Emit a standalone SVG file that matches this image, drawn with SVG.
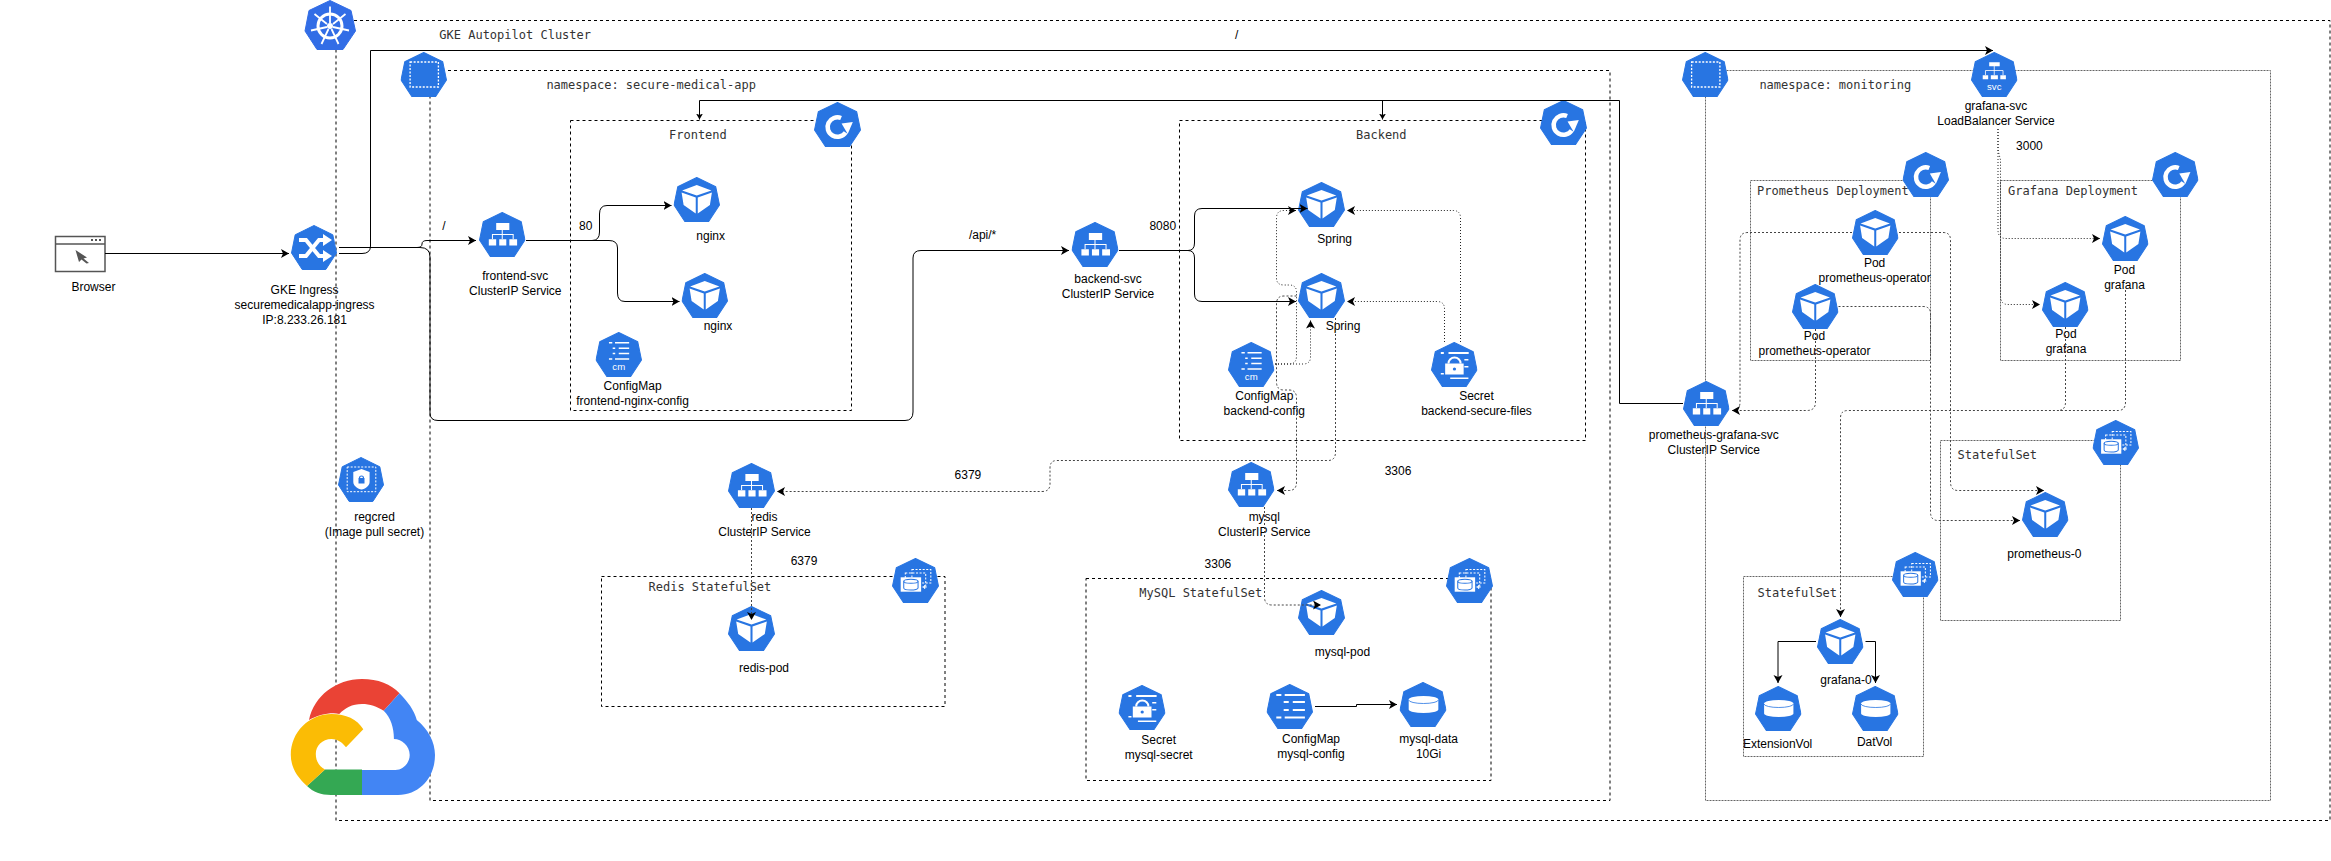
<svg xmlns="http://www.w3.org/2000/svg" width="2331" height="861" viewBox="0 0 2331 861">
<style>
text{font-family:"Liberation Sans",Arial,sans-serif;font-size:12px;fill:#000;text-anchor:middle}
text.m{font-family:"DejaVu Sans Mono","Liberation Mono",monospace;fill:#333;text-anchor:start}
text.i{fill:#fff;font-size:9.5px}
.box{fill:none;stroke:#000;stroke-dasharray:3 3}
.gbox{fill:none;stroke:#666;stroke-dasharray:2 1}
.c{fill:none;stroke:#000}
.big{marker-end:url(#a)}
.small{marker-end:url(#b)}
.dot{fill:none;stroke:#222;stroke-dasharray:1 2;marker-end:url(#a)}
.gd{fill:none;stroke:#444;stroke-dasharray:2 2;marker-end:url(#a)}
.gn{fill:none;stroke:#444;stroke-dasharray:2 2}
.hex{fill:#2875e2;stroke:#2875e2;stroke-linejoin:round}
.w{fill:#fff}
.wl{fill:none;stroke:#fff}
.wd{fill:none;stroke:#fff;stroke-dasharray:2 1.5}
.bl{fill:none;stroke:#2875e2}
</style>
<defs>
<marker id="a" markerUnits="userSpaceOnUse" markerWidth="10" markerHeight="10" refX="8" refY="4.5" orient="auto"><path d="M0 0L8 4.5L0 9L2 4.5Z" fill="#000"/></marker>
<marker id="b" markerUnits="userSpaceOnUse" markerWidth="8" markerHeight="8" refX="6" refY="3.5" orient="auto"><path d="M0 0L6 3.5L0 7L1.5 3.5Z" fill="#000"/></marker>
<polygon id="h" class="hex" points="23,.5 41.8,9.8 45.5,28 34.8,44.5 11.2,44.5 .5,28 4.2,9.8"/>
<symbol id="pod" viewBox="0 0 46 45" preserveAspectRatio="none"><use href="#h"/><path class="w" d="M23 8L37.5 13.5L23 18.5L8.5 13.5ZM8 15.5L22 20.5V36.5L10 28ZM38 15.5L24 20.5V36.5L36 28Z"/></symbol>
<symbol id="svc" viewBox="0 0 46 45" preserveAspectRatio="none"><use href="#h"/><path class="w" d="M17 11h13v7h-13zM9.7 27.3h7.3v6.2h-7.3zM20 27.3h7v6.2h-7zM30 27.3h7.7v6.2h-7.7z"/><path class="wl" d="M23 18V27M13.3 27V22.5H33.8V27"/></symbol>
<symbol id="lb" viewBox="0 0 46 45" preserveAspectRatio="none"><use href="#h"/><path class="w" d="M18 10.3h10.4v4h-10.4zM11.6 23.3h5.4v4h-5.4zM19.6 23.3h7v4h-7zM29 23.3h5.5v4h-5.5z"/><path class="wl" d="M23 14V23M14.3 23V18.5H31.7V23" stroke-width=".8"/><text class="i" x="23" y="38.5">svc</text></symbol>
<symbol id="cm" viewBox="0 0 46 45" preserveAspectRatio="none"><use href="#h"/><path class="w" d="M13.3 10h3.3v1.6h-3.3zM19.3 10h14v1.6h-14zM17 15.5h2.5v1.6h-2.5zM23 15.5h10.3v1.6h-10.3zM17 20.7h2.5v1.6h-2.5zM23 20.7h10.3v1.6h-10.3zM13.3 26.2h3.3v1.6h-3.3zM19.3 26.2h14v1.6h-14z"/><text class="i" x="23" y="38.5">cm</text></symbol>
<symbol id="cm2" viewBox="0 0 46 45" preserveAspectRatio="none"><use href="#h"/><path class="w" d="M9.7 10h5v2h-5zM18 10h20v2h-20zM17 17h5v2h-5zM26 17h12v2h-12zM17 25h5v2h-5zM26 25h12v2h-12zM9.7 32.5h5v2h-5zM18 32.5h20v2h-20z"/></symbol>
<symbol id="sec" viewBox="0 0 46 45" preserveAspectRatio="none"><use href="#h"/><path class="w" d="M9.7 10h3v2h-3zM17.3 10h20v2h-20zM33 17h4v1.6h-4zM33 24h4v1.6h-4zM9.7 31h3v1.6h-3zM19 35.5h18v1.6h-18zM14 21.5h18.3v11h-18.3z"/><path class="wl" d="M17.3 21.5a6 6 0 0 1 12 0" stroke-width="2"/><circle cx="23.2" cy="27" r="1.6" fill="#2875e2"/></symbol>
<symbol id="dep" viewBox="0 0 46 45" preserveAspectRatio="none"><use href="#h"/><path class="wl" stroke-width="4.5" d="M26.5 16A9.7 9.7 0 1 0 31 30.5"/><path class="w" d="M27 21.5L38 20L33 32Z"/></symbol>
<symbol id="ns" viewBox="0 0 46 45" preserveAspectRatio="none"><use href="#h"/><rect class="wd" x="9.5" y="10" width="28" height="25" stroke-width="1.3"/></symbol>
<symbol id="sts" viewBox="0 0 46 45" preserveAspectRatio="none"><use href="#h"/><rect class="wd" x="19.5" y="11.5" width="18.5" height="13.5"/><rect class="wd" x="13" y="15" width="20" height="14"/><rect class="w" x="8.5" y="19.3" width="20" height="14.4"/><path class="bl" d="M11.5 23.3V30a7 2 0 0 0 14 0V23.3"/><ellipse class="bl" cx="18.5" cy="23.3" rx="7" ry="2"/><path class="wl" d="M32 27v4M30 29h4"/></symbol>
<symbol id="vol" viewBox="0 0 46 45" preserveAspectRatio="none"><use href="#h"/><path class="w" d="M9 17.5a14.5 3.5 0 0 1 29 0V27.5a14.5 3.5 0 0 1 -29 0Z"/><path class="bl" d="M9 18a14.5 3.5 0 0 0 29 0" stroke-width=".8"/></symbol>
<symbol id="ing" viewBox="0 0 46 45" preserveAspectRatio="none"><use href="#h"/><path class="wl" stroke-width="4" d="M8 15H15L28 31H33M8 31H15L28 15H33"/><path class="w" d="M32 9L41 15L32 21ZM32 25L41 31L32 37Z"/></symbol>
<symbol id="reg" viewBox="0 0 46 45" preserveAspectRatio="none"><use href="#h"/><rect class="wd" x="9.2" y="10" width="28.6" height="24.7"/><path class="w" d="M23.5 12L31.6 15V25C31.6 29 27 32 23.5 32.5C20 32 15.3 29 15.3 25V15Z"/><rect x="20.5" y="21" width="6" height="5.5" fill="#2875e2"/><path class="bl" d="M21.5 21a2 2 0 0 1 4 0" stroke-width="1.2"/></symbol>
</defs>

<g id="containers">
<rect id="cluster-box" class="box" x="336" y="20.5" width="1994" height="800"/>
<rect id="ns-app-box" class="box" x="430" y="70.5" width="1180" height="730"/>
<rect id="frontend-box" class="box" x="570.5" y="120.5" width="281" height="290"/>
<rect id="backend-box" class="box" x="1179.5" y="120.5" width="406" height="320"/>
<rect id="redis-box" class="box" x="601.5" y="576.5" width="343.5" height="130"/>
<rect id="mysql-box" class="box" x="1086" y="578.5" width="405" height="202"/>
<rect id="ns-mon-box" class="gbox" x="1705.5" y="70.5" width="565" height="730"/>
<rect id="prom-box" class="gbox" x="1750.5" y="180.5" width="180" height="180"/>
<rect id="graf-box" class="gbox" x="2000.5" y="180.5" width="180" height="180"/>
<rect id="sts-prom-box" class="gbox" x="1940.5" y="440.5" width="180" height="180"/>
<rect id="sts-graf-box" class="gbox" x="1743.5" y="576.5" width="180" height="180"/>
<text class="m" x="439.3" y="39">GKE Autopilot Cluster</text>
<text class="m" x="546.4" y="89">namespace: secure-medical-app</text>
<text class="m" x="669" y="139">Frontend</text>
<text class="m" x="1356" y="139">Backend</text>
<text class="m" x="648.5" y="591">Redis StatefulSet</text>
<text class="m" x="1139.3" y="597">MySQL StatefulSet</text>
<text class="m" x="1759.4" y="89">namespace: monitoring</text>
<text class="m" x="1757" y="195">Prometheus Deployment</text>
<text class="m" x="2008" y="195">Grafana Deployment</text>
<text class="m" x="1957.6" y="459">StatefulSet</text>
<text class="m" x="1757.6" y="597">StatefulSet</text>
</g>

<g id="n-k8s"><polygon fill="#326de6" stroke="#326de6" stroke-linejoin="round" points="330,.5 351,10.5 355.5,31 343,49.5 317,49.5 305,31 309,10.5"/><circle cx="330" cy="26" r="12" fill="none" stroke="#fff" stroke-width="3"/><circle cx="330" cy="26" r="3" fill="#fff"/><path class="wl" stroke-width="1.8" d="M330 6.5V23M345.5 14L333 24M349 30.5L333 27M338.5 44L331.5 29M321.5 44L328.5 29M311 30.5L327 27M314.5 14L327 24"/></g>
<g id="n-browser"><rect x="55.5" y="236.5" width="49.5" height="35" fill="#fff" stroke="#555" stroke-width="1.5"/><path d="M55.5 244H105" stroke="#555" stroke-width="1.5"/><path d="M91 239h2v2h-2zM95 239h2v2h-2zM99 239h2v2h-2z" fill="#555"/><path d="M75.5 250L87 257.5L83.5 258.5L89 263L86.5 263.5L81.5 259.5L79 262Z" fill="#555"/><text x="93.4" y="291">Browser</text></g>
<g id="n-ingress"><use href="#ing" x="291" y="225" width="46" height="45"/><text x="304.6" y="294">GKE Ingress</text><text x="304.6" y="309">securemedicalapp-ingress</text><text x="304.6" y="323.5">IP:8.233.26.181</text></g>
<g id="n-regcred"><use href="#reg" x="338" y="457" width="46" height="45"/><text x="374.5" y="521">regcred</text><text x="374.5" y="536">(Image pull secret)</text></g>
<g id="n-ns-app"><use href="#ns" x="400.5" y="52" width="46.5" height="45"/></g>
<g id="n-dep-frontend"><use href="#dep" x="814" y="102" width="47" height="45"/></g>
<g id="n-dep-backend"><use href="#dep" x="1540" y="100" width="47" height="45"/></g>
<g id="n-frontend-svc"><use href="#svc" x="479" y="212" width="46.5" height="45"/><text x="515.3" y="280">frontend-svc</text><text x="515.3" y="295">ClusterIP Service</text></g>
<g id="n-nginx1"><use href="#pod" x="673.5" y="177" width="46.5" height="45"/><text x="710.7" y="240">nginx</text></g>
<g id="n-nginx2"><use href="#pod" x="681.5" y="273" width="46.5" height="45"/><text x="718" y="330">nginx</text></g>
<g id="n-cm-frontend"><use href="#cm" x="595.5" y="332" width="46.5" height="45"/><text x="632.6" y="390">ConfigMap</text><text x="632.6" y="405">frontend-nginx-config</text></g>
<g id="n-backend-svc"><use href="#svc" x="1071.5" y="222" width="47" height="45"/><text x="1108" y="283">backend-svc</text><text x="1108" y="298">ClusterIP Service</text></g>
<g id="n-spring1"><use href="#pod" x="1298" y="182" width="47" height="45"/><text x="1334.7" y="243">Spring</text></g>
<g id="n-spring2"><use href="#pod" x="1298" y="273" width="47" height="45"/><text x="1343" y="330">Spring</text></g>
<g id="n-cm-backend"><use href="#cm" x="1228" y="342" width="46.5" height="45"/><text x="1264.3" y="400">ConfigMap</text><text x="1264.3" y="415">backend-config</text></g>
<g id="n-secret-backend"><use href="#sec" x="1431" y="342" width="46.5" height="45"/><text x="1476.5" y="400">Secret</text><text x="1476.5" y="415">backend-secure-files</text></g>
<g id="n-redis-svc"><use href="#svc" x="728" y="463" width="47" height="45"/><text x="764.5" y="521">redis</text><text x="764.5" y="536">ClusterIP Service</text></g>
<g id="n-redis-sts"><use href="#sts" x="892" y="558" width="47" height="45"/></g>
<g id="n-redis-pod"><use href="#pod" x="728" y="606" width="47" height="45"/><text x="764" y="672">redis-pod</text></g>
<g id="n-mysql-svc"><use href="#svc" x="1228" y="462" width="46.5" height="45"/><text x="1264.3" y="521">mysql</text><text x="1264.3" y="536">ClusterIP Service</text></g>
<g id="n-mysql-sts"><use href="#sts" x="1446" y="558" width="47" height="45"/></g>
<g id="n-mysql-pod"><use href="#pod" x="1298" y="590" width="47" height="45"/><text x="1342.4" y="656">mysql-pod</text></g>
<g id="n-mysql-secret"><use href="#sec" x="1118.5" y="685" width="47" height="45"/><text x="1158.7" y="744">Secret</text><text x="1158.7" y="759">mysql-secret</text></g>
<g id="n-mysql-config"><use href="#cm2" x="1266.5" y="684" width="46.5" height="45"/><text x="1311" y="743">ConfigMap</text><text x="1311" y="758">mysql-config</text></g>
<g id="n-mysql-data"><use href="#vol" x="1399.5" y="682" width="47" height="45"/><text x="1428.6" y="743">mysql-data</text><text x="1428.6" y="758">10Gi</text></g>
<g id="n-ns-mon"><use href="#ns" x="1682" y="52" width="46.5" height="45"/></g>
<g id="n-grafana-svc"><use href="#lb" x="1971" y="52" width="46.5" height="45"/><text x="1996" y="110">grafana-svc</text><text x="1996" y="125">LoadBalancer Service</text></g>
<g id="n-dep-prom"><use href="#dep" x="1902.5" y="152" width="46.5" height="45"/></g>
<g id="n-dep-graf"><use href="#dep" x="2152" y="152" width="46.5" height="45"/></g>
<g id="n-prom-op1"><use href="#pod" x="1852" y="210" width="46.5" height="45"/><text x="1874.6" y="267">Pod</text><text x="1874.6" y="282">prometheus-operator</text></g>
<g id="n-prom-op2"><use href="#pod" x="1792" y="284" width="46.5" height="45"/><text x="1814.5" y="340">Pod</text><text x="1814.5" y="355">prometheus-operator</text></g>
<g id="n-graf1"><use href="#pod" x="2102" y="216" width="46.5" height="45"/><text x="2124.5" y="274">Pod</text><text x="2124.5" y="289">grafana</text></g>
<g id="n-graf2"><use href="#pod" x="2042" y="282" width="46.5" height="45"/><text x="2066" y="338">Pod</text><text x="2066" y="353">grafana</text></g>
<g id="n-pg-svc"><use href="#svc" x="1683" y="381" width="46.5" height="45"/><text x="1713.8" y="439">prometheus-grafana-svc</text><text x="1713.8" y="454">ClusterIP Service</text></g>
<g id="n-sts-prom"><use href="#sts" x="2092.5" y="420" width="46.5" height="45"/></g>
<g id="n-prom0"><use href="#pod" x="2022" y="492" width="46.5" height="45"/><text x="2044.3" y="558">prometheus-0</text></g>
<g id="n-sts-graf"><use href="#sts" x="1892" y="552" width="46.5" height="45"/></g>
<g id="n-graf0"><use href="#pod" x="1817" y="619" width="46.5" height="45"/><text x="1846" y="684">grafana-0</text></g>
<g id="n-extvol"><use href="#vol" x="1755" y="686" width="46.5" height="45"/><text x="1777.6" y="748">ExtensionVol</text></g>
<g id="n-datvol"><use href="#vol" x="1852" y="686" width="46.5" height="45"/><text x="1874.6" y="746">DatVol</text></g>

<g id="n-gcp">
<path fill="#ea4335" d="M309 720C314 696 336 679 362 679C378 679 391 684 399.5 693.3L383.7 710.7C377 706.5 370 704 362 704C352 704 345 708 339.3 714C331 712 318 715 309 720Z"/>
<path fill="#4285f4" d="M399.5 693.3C408 702 414 710 416.8 720C428 729 435 742 435 755C435 777 420 795 398 795H362V770H395.4C403 770 409.7 763 409.7 755C409.7 746 402 739 393.9 739C394 728 391 718 383.7 710.7Z"/>
<path fill="#34a853" d="M325 769.5H362V795H331C321 795 313 792 307 786Z"/>
<path fill="#fbbc05" d="M331.6 714C346 714 357 719 363.3 729.3L346 747.3C342 742 337 739 331.6 739C322 739 315.8 746 315.8 754C315.8 761 319 766 325 769.5L307 786C297 777 290.8 767 290.8 755C290.8 732 309 714 331.6 714Z"/>
</g>

<g id="connectors">
<path class="c big" d="M105 253.5H289"/>
<path class="c big" d="M339 247.5H417Q422 247.5 422 244Q422 240.5 427 240.5H476"/>
<path class="c big" d="M339 247.5H420Q430 247.5 430 257V413Q430 420.5 438 420.5H905Q913 420.5 913 412V258Q913 250.5 921 250.5H1069"/>
<path class="c big" d="M339 253.5H362Q370.5 253.5 370.5 246V50.5H1993"/>
<path class="c small" d="M1683 403.5H1619.5V100.5H699.5V119.5"/>
<path class="c small" d="M1382.5 100.5V119.5"/>
<path class="c big" d="M526 240.5H592Q599.5 240.5 599.5 232V214Q599.5 205.5 607 205.5H671.5"/>
<path class="c big" d="M526 240.5H609Q617.5 240.5 617.5 248V293Q617.5 301.5 625 301.5H679.5"/>
<path class="c big" d="M1119 250.5H1188Q1194.5 250.5 1194.5 243V216Q1194.5 208.5 1202 208.5H1307.5"/>
<path class="c big" d="M1119 250.5H1188Q1194.5 250.5 1194.5 258V294Q1194.5 301.5 1202 301.5H1296"/>
<path class="dot" d="M1460.5 342V218Q1460.5 210.5 1453 210.5H1347"/>
<path class="dot" d="M1444.5 342V309Q1444.5 301.5 1437 301.5H1347"/>
<path class="dot" d="M1275 364H1303Q1310.5 364 1310.5 357V320.5"/>
<path class="dot" d="M1275 364H1289Q1296.5 364 1296.5 356V292Q1296.5 285 1289 285H1284Q1276.5 285 1276.5 278V218Q1276.5 210.5 1284 210.5H1296"/>
<path class="gd" d="M1296.5 296H1284Q1276.5 296 1276.5 304V382Q1276.5 390 1284 390H1289Q1296.5 390 1296.5 398V482Q1296.5 490.5 1289 490.5H1277"/>
<path class="gd" d="M1335.5 318V452Q1335.5 460.5 1328 460.5H1057Q1050 460.5 1050 468V484Q1050 491.5 1042 491.5H777"/>
<path class="gd" d="M751.5 508V620"/>
<path class="gd" d="M1264.5 507V597Q1264.5 605 1272 605H1321"/>
<path class="c big" d="M1315 706.5H1356.5V704.5H1397"/>
<path class="dot" d="M1998 129V230Q1998 238.5 2006 238.5H2100"/>
<path class="dot" d="M1998 129V150L2000.5 160V296Q2000.5 304.5 2008 304.5H2040"/>
<path class="gn" d="M1852 232.5H1748Q1740 232.5 1740 240V402Q1740 410.5 1733 410.5"/>
<path class="gd" d="M1815.5 329V402Q1815.5 410.5 1807 410.5H1732"/>
<path class="gd" d="M1899 232.5H1943Q1950.5 232.5 1950.5 240V482Q1950.5 490.5 1958 490.5H2044"/>
<path class="gd" d="M1838.5 306.5H1923Q1930.5 306.5 1930.5 314V512Q1930.5 520.5 1938 520.5H2020"/>
<path class="gd" d="M2125.5 290V402Q2125.5 410.5 2118 410.5H1848Q1840.5 410.5 1840.5 418V617"/>
<path class="gn" d="M2065.5 327V402Q2065.5 410.5 2058 410.5"/>
<path class="c big" d="M1816 641.5H1778V683"/>
<path class="c big" d="M1865.5 641.5H1875.5V683"/>
<g id="edge-labels">
<text x="444" y="230">/</text>
<text x="585.7" y="230">80</text>
<text x="1236.7" y="39">/</text>
<text x="982.6" y="239">/api/*</text>
<text x="1162.8" y="230">8080</text>
<text x="2029.4" y="150">3000</text>
<text x="967.9" y="479">6379</text>
<text x="804" y="565">6379</text>
<text x="1398" y="475">3306</text>
<text x="1217.9" y="568">3306</text>
</g>
</g>
</svg>
